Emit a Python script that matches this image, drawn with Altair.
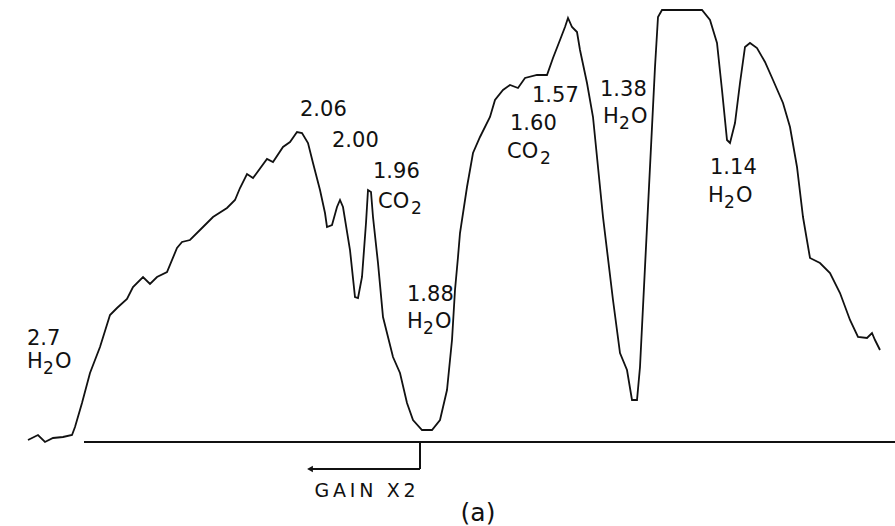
import altair as alt
import pandas as pd

pos = [28, 38, 45, 53, 63, 72, 75, 82, 90, 100, 110, 117, 127, 133, 143, 150, 157, 167,
       177, 182, 190, 203, 213, 227, 235, 240, 247, 253, 267, 273, 283, 290, 297, 302,
       308, 313, 320, 325, 327, 332, 337, 340, 343, 350, 355, 358, 362, 366, 368, 371,
       373, 378, 383, 393, 400, 407, 413, 422, 432, 440, 447, 452, 455, 458, 460, 467,
       473, 480, 490, 495, 503, 510, 518, 525, 537, 547, 553, 560, 565, 568, 572, 577,
       580, 587, 593, 603, 613, 620, 627, 632, 637, 640, 645, 650, 655, 658, 662, 702,
       710, 717, 722, 727, 730, 735, 740, 745, 750, 757, 765, 773, 783, 790, 797, 803,
       810, 820, 830, 840, 850, 858, 867, 872, 875, 880]
ypix = [440, 435, 442, 438, 437, 435, 427, 403, 373, 347, 315, 308, 299, 287, 277, 284, 277, 272,
        248, 242, 240, 227, 217, 208, 200, 188, 174, 178, 159, 162, 147, 142, 132, 133,
        143, 163, 190, 213, 227, 225, 207, 200, 207, 250, 297, 298, 277, 223, 190, 192,
        217, 263, 317, 357, 373, 403, 420, 430, 430, 420, 390, 340, 290, 257, 233, 187,
        153, 137, 117, 100, 90, 85, 88, 78, 75, 75, 58, 40, 27, 18, 27, 32,
        50, 83, 117, 217, 300, 353, 370, 400, 400, 367, 267, 167, 67, 17, 10, 10,
        20, 43, 90, 140, 143, 123, 83, 47, 43, 48, 62, 80, 103, 127, 167, 217,
        258, 263, 273, 293, 320, 337, 338, 333, 340, 350]
BASE = 442
signal = [BASE - v for v in ypix]

# Annotation labels
lab_text = ["2.7", "H2O", "2.06", "2.00", "1.96", "CO2", "1.88", "H2O",
            "1.57", "1.60", "CO2", "1.38", "H2O", "1.14", "H2O"]
lab_pos = [27, 27, 300, 332, 373, 378, 407, 407, 532, 510, 507, 600, 603, 710, 708]
lab_ypix = [339, 362, 110, 141, 172, 202, 295, 322, 96, 124, 152, 90, 117, 168, 196]

# Baseline and gain marker
base_pos = [84, 895]
gain_pos = 420
gain_drop = -27
arrow_end = 310

W, H = 895, 526
FS = 21
xs = alt.Scale(domain=[0, W])
ys = alt.Scale(domain=[BASE - H, BASE])

# Split formulas into main-size glyphs and lowered subscript digits
main_rows, sub_rows = [], []
for t, x0, yp in zip(lab_text, lab_pos, lab_ypix):
    lvl = BASE - yp
    if t == "H2O":
        main_rows += [("H", x0, lvl), ("O", x0 + 28, lvl)]
        sub_rows.append(("2", x0 + 16, lvl - 7))
    elif t == "CO2":
        main_rows += [("CO", x0, lvl)]
        sub_rows.append(("2", x0 + 33, lvl - 7))
    else:
        main_rows.append((t, x0, lvl))

trace = pd.DataFrame({"pos": pos, "signal": signal, "order": range(len(pos))})
line = alt.Chart(trace).mark_line(color="#111111", strokeWidth=1.8, interpolate="linear").encode(
    x=alt.X("pos:Q", scale=xs, axis=None),
    y=alt.Y("signal:Q", scale=ys, axis=None),
    order="order:Q",
)

base_df = pd.DataFrame({"x1": [base_pos[0]], "x2": [base_pos[1]], "y": [0]})
baseline = alt.Chart(base_df).mark_rule(color="#111111", strokeWidth=2.2).encode(
    x=alt.X("x1:Q", scale=xs, axis=None), x2="x2:Q",
    y=alt.Y("y:Q", scale=ys, axis=None),
)

vert_df = pd.DataFrame({"x": [gain_pos], "y1": [0], "y2": [gain_drop]})
vert = alt.Chart(vert_df).mark_rule(color="#111111", strokeWidth=2).encode(
    x=alt.X("x:Q", scale=xs, axis=None),
    y=alt.Y("y1:Q", scale=ys, axis=None), y2="y2:Q",
)
horiz_df = pd.DataFrame({"x1": [arrow_end], "x2": [gain_pos], "y": [gain_drop]})
horiz = alt.Chart(horiz_df).mark_rule(color="#111111", strokeWidth=2.2).encode(
    x=alt.X("x1:Q", scale=xs, axis=None), x2="x2:Q",
    y=alt.Y("y:Q", scale=ys, axis=None),
)
head_df = pd.DataFrame({"x": [arrow_end], "y": [gain_drop]})
head = alt.Chart(head_df).mark_point(shape="triangle-left", filled=True, color="#111111",
                                     size=45, opacity=1).encode(
    x=alt.X("x:Q", scale=xs, axis=None),
    y=alt.Y("y:Q", scale=ys, axis=None),
)

main_df = pd.DataFrame(main_rows, columns=["t", "x", "y"])
labels = alt.Chart(main_df).mark_text(align="left", baseline="middle", fontSize=FS,
                                      font="DejaVu Sans", color="#111111").encode(
    x=alt.X("x:Q", scale=xs, axis=None),
    y=alt.Y("y:Q", scale=ys, axis=None),
    text="t:N",
)
sub_df = pd.DataFrame(sub_rows, columns=["t", "x", "y"])
subs = alt.Chart(sub_df).mark_text(align="left", baseline="middle", fontSize=17,
                                   font="DejaVu Sans", color="#111111").encode(
    x=alt.X("x:Q", scale=xs, axis=None),
    y=alt.Y("y:Q", scale=ys, axis=None),
    text="t:N",
)

gain_df = pd.DataFrame({"t": ["G\u2009A\u2009I\u2009N\u2002\u2009X\u20092"], "x": [365], "y": [BASE - 491]})
gain_txt = alt.Chart(gain_df).mark_text(align="center", baseline="middle", fontSize=19,
                                        font="DejaVu Sans", color="#111111").encode(
    x=alt.X("x:Q", scale=xs, axis=None),
    y=alt.Y("y:Q", scale=ys, axis=None),
    text="t:N",
)
a_df = pd.DataFrame({"t": ["(a)"], "x": [478], "y": [BASE - 513]})
a_txt = alt.Chart(a_df).mark_text(align="center", baseline="middle", fontSize=25,
                                  font="DejaVu Sans", color="#111111").encode(
    x=alt.X("x:Q", scale=xs, axis=None),
    y=alt.Y("y:Q", scale=ys, axis=None),
    text="t:N",
)

chart = alt.layer(baseline, vert, horiz, head, line, labels, subs, gain_txt, a_txt).properties(
    width=W, height=H, padding=0, autosize=alt.AutoSizeParams(type="none"),
    background="white",
).configure_view(stroke=None)

chart.save("out.html", embed_options={"renderer": "svg", "actions": False})
